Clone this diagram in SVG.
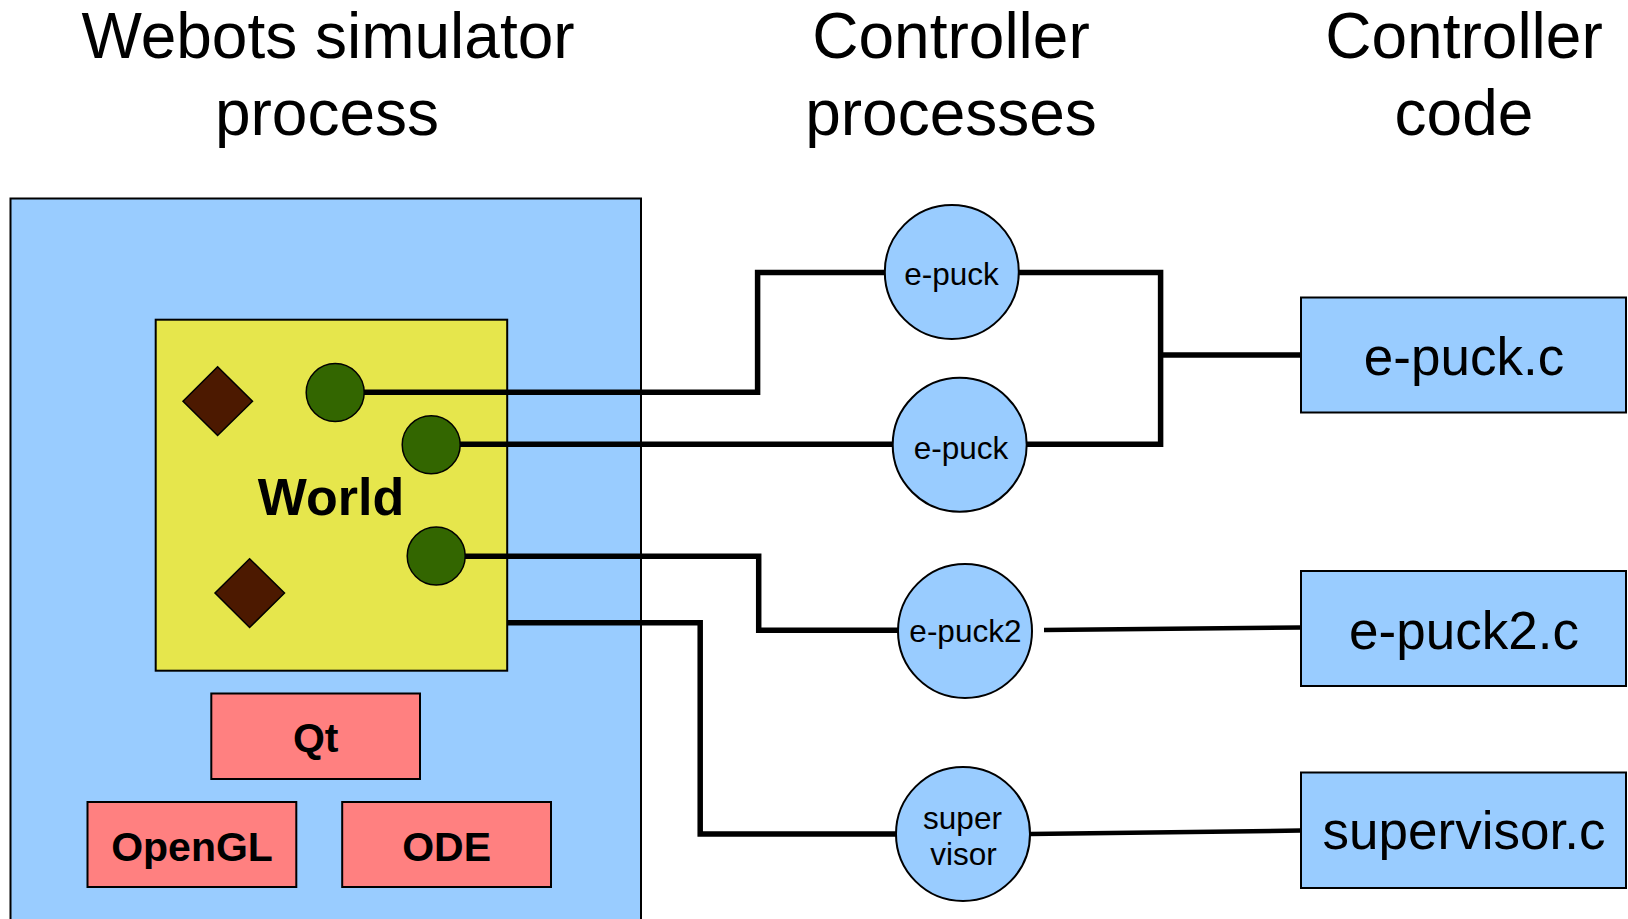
<svg xmlns="http://www.w3.org/2000/svg" width="1628" height="919" viewBox="0 0 1628 919">
<style>
text{font-family:"Liberation Sans",Arial,sans-serif;fill:#000}
.hdr{font-size:64px;text-anchor:middle}
.blue{fill:#99ccff;stroke:#000;stroke-width:2}
.red{fill:#ff8080;stroke:#000;stroke-width:2}
.lib{font-size:41px;font-weight:bold;text-anchor:middle}
.ell{font-size:31.5px;text-anchor:middle}
.code{font-size:53px;text-anchor:middle}
.dia{fill:#4c1900;stroke:#000;stroke-width:1.5}
.rob{fill:#336600;stroke:#000;stroke-width:1.5}
.con{fill:none;stroke:#000;stroke-width:5.5;stroke-linejoin:miter;stroke-linecap:butt}
.thin{fill:none;stroke:#000;stroke-width:4.5}
</style>
<rect width="1628" height="919" fill="#fff"/>
<g id="headers">
<text class="hdr" x="328" y="58">Webots simulator</text>
<text class="hdr" x="327" y="135">process</text>
<text class="hdr" x="951" y="58">Controller</text>
<text class="hdr" x="951" y="135">processes</text>
<text class="hdr" x="1464" y="58">Controller</text>
<text class="hdr" x="1464" y="135">code</text>
</g>
<g id="simulator">
<rect class="blue" x="10.5" y="198.5" width="630.5" height="730"/>
</g>
<g id="world">
<rect x="155.7" y="319.7" width="351.5" height="351" fill="#e6e64c" stroke="#000" stroke-width="2"/>
<text x="331" y="515" font-size="52" font-weight="bold" text-anchor="middle">World</text>
<polygon class="dia" points="217.6,366.7 252.5,401.3 217.6,435.5 183,401.3"/>
<polygon class="dia" points="249.6,558.7 284.5,593 249.6,627.5 215,593"/>
</g>
<g id="connectors">
<polyline class="con" points="364,392.2 757.6,392.2 757.6,272.5 885,272.5"/>
<polyline class="con" points="460,444.3 893,444.3"/>
<polyline class="con" points="465,556.3 758.7,556.3 758.7,630.3 898,630.3"/>
<polyline class="con" points="507,622.8 700.2,622.8 700.2,834 896,834"/>
<polyline class="con" points="1019,272.5 1160.6,272.5 1160.6,444.3 1026.6,444.3"/>
<polyline class="con" points="1160.6,355 1301,355"/>
<line class="thin" x1="1044" y1="630" x2="1301" y2="627.5"/>
<line class="thin" x1="1030" y1="834" x2="1301" y2="830.6"/>
</g>
<g id="robots">
<circle class="rob" cx="335.2" cy="392.5" r="29"/>
<circle class="rob" cx="431.2" cy="444.8" r="29"/>
<circle class="rob" cx="436.2" cy="556" r="29"/>
</g>
<g id="qt">
<rect class="red" x="211.3" y="693.5" width="208.7" height="85.5"/>
<text class="lib" x="315.7" y="751.6">Qt</text>
</g>
<g id="opengl">
<rect class="red" x="87.5" y="802" width="208.8" height="85"/>
<text class="lib" x="192" y="861">OpenGL</text>
</g>
<g id="ode">
<rect class="red" x="342.2" y="802" width="208.8" height="85"/>
<text class="lib" x="446.6" y="861">ODE</text>
</g>
<g id="proc-epuck1">
<circle class="blue" cx="951.8" cy="272" r="67"/>
<text class="ell" x="951.5" y="285">e-puck</text>
</g>
<g id="proc-epuck2">
<circle class="blue" cx="959.7" cy="444.8" r="67"/>
<text class="ell" x="961" y="458.5">e-puck</text>
</g>
<g id="proc-epuck2b">
<circle class="blue" cx="965" cy="631" r="67"/>
<text class="ell" x="965.4" y="642">e-puck2</text>
</g>
<g id="proc-supervisor">
<circle class="blue" cx="963" cy="834" r="67"/>
<text class="ell" x="962.5" y="829">super</text>
<text class="ell" x="963.5" y="865">visor</text>
</g>
<g id="code-epuck">
<rect class="blue" x="1301" y="297.5" width="325" height="115"/>
<text class="code" x="1464" y="375">e-puck.c</text>
</g>
<g id="code-epuck2">
<rect class="blue" x="1301" y="571" width="325" height="115"/>
<text class="code" x="1464" y="648.5">e-puck2.c</text>
</g>
<g id="code-supervisor">
<rect class="blue" x="1301" y="772.5" width="325" height="115.5"/>
<text class="code" x="1464" y="849">supervisor.c</text>
</g>
</svg>
